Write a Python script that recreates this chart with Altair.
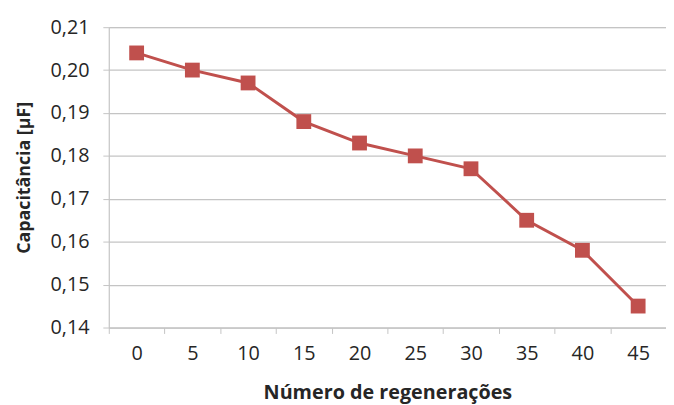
import altair as alt
import pandas as pd

regeneracoes = ["0", "5", "10", "15", "20", "25", "30", "35", "40", "45"]
capacitancia = [0.204, 0.200, 0.197, 0.188, 0.183, 0.180, 0.177, 0.165, 0.158, 0.145]
y_ticks = [0.14, 0.15, 0.16, 0.17, 0.18, 0.19, 0.20, 0.21]

df = pd.DataFrame({"reg": regeneracoes, "cap": capacitancia})

FONT = "Open Sans"
RED = "#C0504D"
GRID = "#C4C4C4"
TEXT = "#262626"

x_enc = alt.X(
    "reg:O",
    sort=regeneracoes,
    bandPosition=0.5,
    scale=alt.Scale(type="band", paddingInner=0, paddingOuter=0),
    axis=alt.Axis(
        title="Número de regenerações",
        labelAngle=0,
        tickBand="extent",
        domainColor=GRID,
        tickColor=GRID,
        tickSize=6,
        labelPadding=10,
        labelFont=FONT,
        labelFontSize=20,
        labelColor=TEXT,
        titleFont=FONT,
        titleFontSize=20,
        titleFontWeight="bold",
        titleColor=TEXT,
        titlePadding=20,
        grid=False,
    ),
)

y_enc = alt.Y(
    "cap:Q",
    scale=alt.Scale(domain=[0.14, 0.21], nice=False, zero=False),
    axis=alt.Axis(
        title="Capacitância  [µF]",
        values=y_ticks,
        labelExpr="replace(format(datum.value, '.2f'), '.', ',')",
        domainColor=GRID,
        tickColor=GRID,
        gridColor=GRID,
        gridWidth=1.3,
        tickSize=6,
        labelPadding=14,
        labelFont=FONT,
        labelFontSize=20,
        labelColor=TEXT,
        titleFont=FONT,
        titleFontSize=18,
        titleFontWeight="bold",
        titleColor=TEXT,
        titlePadding=17,
    ),
)

line = alt.Chart(df).mark_line(color=RED, strokeWidth=3).encode(x=x_enc, y=y_enc)
points = alt.Chart(df).mark_square(color=RED, size=225, opacity=1).encode(x=x_enc, y=y_enc)

chart = (
    alt.layer(line, points)
    .properties(
        width=564,
        height=304,
        autosize=alt.AutoSizeParams(type="none"),
        padding={"left": 102, "top": 17, "right": 0, "bottom": 76},
    )
    .configure_view(stroke=None)
    .configure(background="white")
)

chart.save("out.html", embed_options={"renderer": "svg", "actions": False})
